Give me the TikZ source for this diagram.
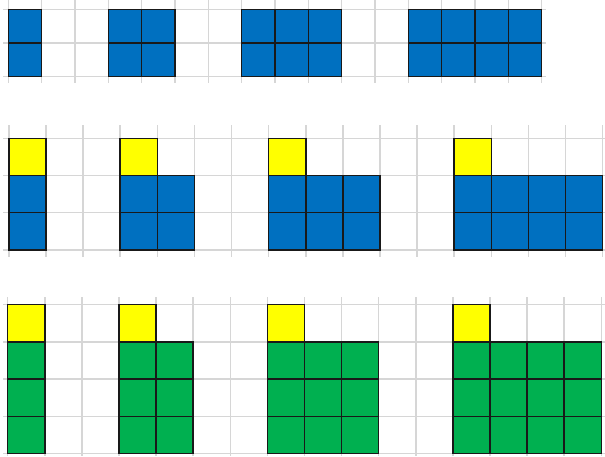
\documentclass[tikz,border=0pt]{standalone}
\definecolor{cblue}{RGB}{0,112,192}
\definecolor{cyellow}{RGB}{255,255,0}
\definecolor{cgreen}{RGB}{0,176,80}
\definecolor{cgrid}{RGB}{214,214,214}
\begin{document}
\begin{tikzpicture}[x=1pt,y=-1pt,
  gridline/.style={draw=cgrid, line width=1.5pt},
  cell/.style={draw=black!90, line width=1.5pt},
  bluecell/.style={cell, fill=cblue},
  yellowcell/.style={cell, fill=cyellow},
  greencell/.style={cell, fill=cgreen}]
\useasboundingbox (0,0) rectangle (605,456);
% ---------- row 1 ----------
\foreach \k in {0,...,16}
  \draw[gridline] ({8.33+33.33*\k},0) -- ({8.33+33.33*\k},83);
\foreach \j in {0,1,2}
  \draw[gridline] (3,{9.3+33.6*\j}) -- (546,{9.3+33.6*\j});
\foreach \s/\n in {0/1,3/2,7/3,12/4}
  \foreach \i in {1,...,\n}
    \foreach \r in {0,1}
      \path[bluecell] ({8.33+33.33*(\s+\i-1)},{9.3+33.6*\r}) rectangle ++(33.33,33.6);
% ---------- row 2 ----------
\foreach \k in {0,...,16}
  \draw[gridline] ({8.8+37.12*\k},125) -- ({8.8+37.12*\k},257);
\foreach \j in {0,...,3}
  \draw[gridline] (3,{138.3+37.2*\j}) -- (605,{138.3+37.2*\j});
\foreach \s/\n in {0/1,3/2,7/3,12/4}{
  \path[yellowcell] ({8.8+37.12*\s},138.3) rectangle ++(37.12,37.2);
  \foreach \i in {1,...,\n}
    \foreach \r in {1,2}
      \path[bluecell] ({8.8+37.12*(\s+\i-1)},{138.3+37.2*\r}) rectangle ++(37.12,37.2);
}
% ---------- row 3 ----------
\foreach \k in {0,...,16}
  \draw[gridline] ({7.7+37.1*\k},297) -- ({7.7+37.1*\k},456);
\foreach \j in {0,...,4}
  \draw[gridline] (3,{304.7+37.2*\j}) -- (605,{304.7+37.2*\j});
\foreach \s/\n in {0/1,3/2,7/3,12/4}{
  \path[yellowcell] ({7.7+37.1*\s},304.7) rectangle ++(37.1,37.2);
  \foreach \i in {1,...,\n}
    \foreach \r in {1,2,3}
      \path[greencell] ({7.7+37.1*(\s+\i-1)},{304.7+37.2*\r}) rectangle ++(37.1,37.2);
}
\end{tikzpicture}
\end{document}
